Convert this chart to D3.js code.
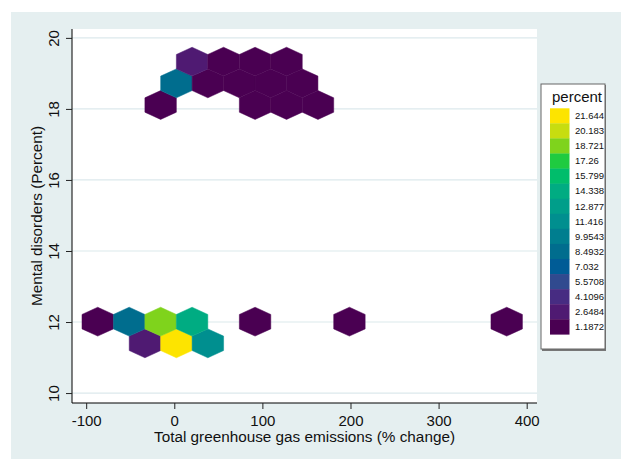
<!DOCTYPE html>
<html>
<head>
<meta charset="utf-8">
<script src="https://cdn.jsdelivr.net/npm/d3@7"></script>
<style>
  body { margin: 0; background: #fff; }
  text { font-family: "Liberation Sans", Arial, sans-serif; fill: #111; }
</style>
</head>
<body>
<svg id="chart" width="621" height="459"></svg>
<script>
// hexbin cells: centre x (% change), centre y (percent), value
var hexX   = [-33.3, 2.4, 38.1,
              -86.9, -51.2, -15.5, 20.2, 91.7, 198.8, 377.3,
              -15.5, 91.7, 127.4, 163.1,
              2.4, 38.1, 73.8, 109.5, 145.2,
              20.2, 55.9, 91.7, 127.4];
var hexY   = [11.40, 11.40, 11.40,
              12.01, 12.01, 12.01, 12.01, 12.01, 12.01, 12.01,
              18.11, 18.11, 18.11, 18.11,
              18.72, 18.72, 18.72, 18.72, 18.72,
              19.33, 19.33, 19.33, 19.33];
var hexPct = [2.65, 21.65, 11.42,
              1.19, 8.50, 18.73, 14.34, 1.19, 1.19, 1.19,
              1.19, 1.19, 1.19, 1.19,
              8.50, 1.19, 1.19, 1.19, 1.19,
              2.65, 1.19, 1.19, 1.19];

var xTicks = [-100, 0, 100, 200, 300, 400];
var yTicks = [10, 12, 14, 16, 18, 20];

var legendCuts = [1.1872, 2.6484, 4.1096, 5.5708, 7.032, 8.4932, 9.9543, 11.416,
                  12.877, 14.338, 15.799, 17.26, 18.721, 20.183, 21.644];
var legendLabels = ["1.1872", "2.6484", "4.1096", "5.5708", "7.032", "8.4932", "9.9543", "11.416",
                    "12.877", "14.338", "15.799", "17.26", "18.721", "20.183", "21.644"];
var legendColors = ["#4a0052", "#4f1a72", "#472c82", "#304a8f", "#005c96", "#006d8e", "#007e8f", "#008f8f",
                    "#009e8a", "#00ac82", "#00bd6b", "#1fcb40", "#7fd31c", "#c7dd10", "#fde400"];

var hexW = 17.85, hexR = 0.4066;   // half width (x units), vertex radius (y units)

var svg = d3.select("#chart"),
    plot = {left: 72, right: 537, top: 29, bottom: 403};

svg.append("rect")
    .attr("x", 11).attr("y", 12).attr("width", 610).attr("height", 447)
    .attr("fill", "#e5eff0");

svg.append("rect")
    .attr("x", plot.left).attr("y", plot.top)
    .attr("width", plot.right - plot.left).attr("height", plot.bottom - plot.top)
    .attr("fill", "#fff");

var x = d3.scaleLinear().domain([-116.1, 411.7]).range([plot.left, plot.right]);
var y = d3.scaleLinear().domain([9.72, 20.25]).range([plot.bottom, plot.top]);
var color = d3.scaleThreshold().domain(legendCuts.slice(1)).range(legendColors);

// gridlines
svg.append("g").selectAll("line")
    .data(yTicks)
    .enter().append("line")
    .attr("x1", plot.left).attr("x2", plot.right)
    .attr("y1", function(d) { return y(d); })
    .attr("y2", function(d) { return y(d); })
    .attr("stroke", "#dce9ec").attr("stroke-width", 1.2);

// hexagons
var cells = hexX.map(function(v, i) { return {x: v, y: hexY[i], v: hexPct[i]}; });
function hexPath(d) {
  var pts = [[d.x, d.y + hexR], [d.x + hexW, d.y + hexR / 2], [d.x + hexW, d.y - hexR / 2],
             [d.x, d.y - hexR], [d.x - hexW, d.y - hexR / 2], [d.x - hexW, d.y + hexR / 2]];
  return "M" + pts.map(function(p) { return x(p[0]) + "," + y(p[1]); }).join("L") + "Z";
}
svg.append("g").selectAll("path")
    .data(cells)
    .enter().append("path")
    .attr("d", hexPath)
    .attr("fill", function(d) { return color(d.v); })
    .attr("stroke", function(d) { return color(d.v); })
    .attr("stroke-width", 0.5);

// axes
var yAxis = svg.append("g")
    .attr("transform", "translate(" + plot.left + ",0)")
    .call(d3.axisLeft(y).tickValues(yTicks).tickSize(6).tickSizeOuter(0).tickFormat(function(d) { return String(d); }));
yAxis.select(".domain").attr("stroke", "#000").attr("d", "M0," + plot.top + "V" + plot.bottom);
yAxis.selectAll(".tick line").attr("stroke", "#222");
yAxis.selectAll(".tick text")
    .attr("x", null).attr("dy", null)
    .attr("transform", "translate(-13,0) rotate(-90)")
    .attr("text-anchor", "middle")
    .style("font-size", "15px").attr("fill", "#111");

var xAxis = svg.append("g")
    .attr("transform", "translate(0," + plot.bottom + ")")
    .call(d3.axisBottom(x).tickValues(xTicks).tickSize(6).tickSizeOuter(0).tickFormat(function(d) { return String(d); }));
xAxis.select(".domain").attr("stroke", "#000").attr("d", "M" + plot.left + ",0H" + plot.right);
xAxis.selectAll(".tick line").attr("stroke", "#222");
xAxis.selectAll(".tick text")
    .attr("y", 22.5).attr("dy", null)
    .style("font-size", "15px").attr("fill", "#111");

svg.append("text")
    .attr("x", (plot.left + plot.right) / 2).attr("y", 442)
    .attr("text-anchor", "middle")
    .style("font-size", "15.3px")
    .text("Total greenhouse gas emissions (% change)");

svg.append("text")
    .attr("transform", "translate(42," + 216 + ") rotate(-90)")
    .attr("text-anchor", "middle")
    .style("font-size", "15.3px")
    .text("Mental disorders (Percent)");

// legend
var lg = svg.append("g");
lg.append("rect")
    .attr("x", 542).attr("y", 85).attr("width", 64).attr("height", 266)
    .attr("fill", "#777");
lg.append("rect")
    .attr("x", 541).attr("y", 84).attr("width", 64).attr("height", 265)
    .attr("fill", "#fff").attr("stroke", "#666").attr("stroke-width", 1);
lg.append("text")
    .attr("x", 577).attr("y", 102)
    .attr("text-anchor", "middle")
    .style("font-size", "15px")
    .text("percent");

var ly = d3.scaleBand().domain(legendLabels.slice().reverse()).range([108.3, 334.3]);
var item = lg.selectAll(".item")
    .data(legendLabels.slice().reverse())
    .enter().append("g")
    .attr("class", "item")
    .attr("transform", function(d) { return "translate(0," + ly(d) + ")"; });
item.append("rect")
    .attr("x", 550).attr("width", 19.5)
    .attr("height", ly.bandwidth() + 0.3)
    .attr("fill", function(d) { return legendColors[legendLabels.indexOf(d)]; });
item.append("text")
    .attr("x", 575).attr("y", ly.bandwidth() / 2)
    .attr("dy", "0.35em")
    .style("font-size", "9.5px").attr("fill", "#222")
    .text(function(d) { return d; });
</script>
</body>
</html>
